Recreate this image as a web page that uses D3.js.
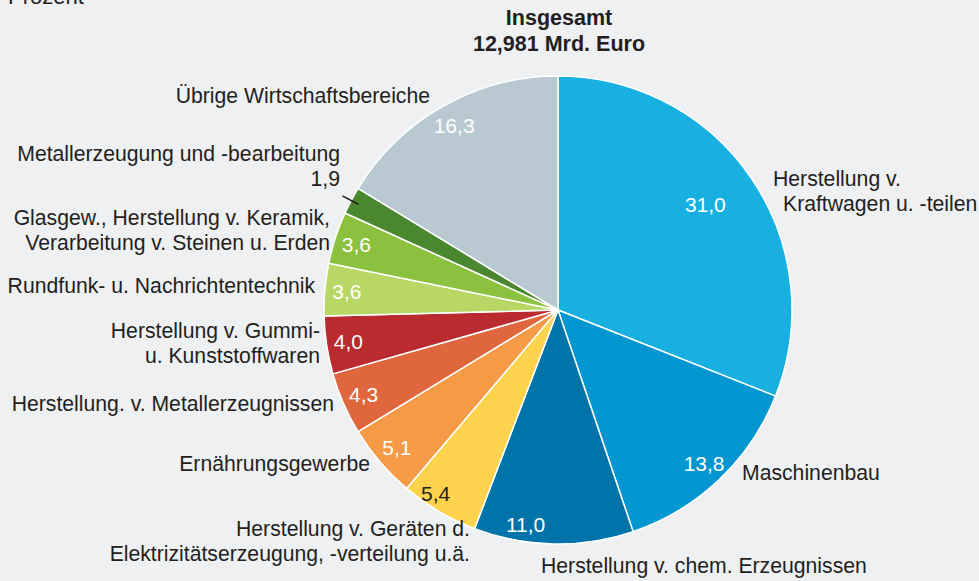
<!DOCTYPE html>
<html><head><meta charset="utf-8">
<script src="https://cdn.jsdelivr.net/npm/d3@7"></script>
<style>
body{margin:0;background:#eff0f2}
svg{display:block}
text{font-family:"Liberation Sans",Arial,Helvetica,sans-serif}
</style></head>
<body><svg id="chart" width="979" height="581"></svg>
<script>
const categories = [
  "Herstellung v. Kraftwagen u. -teilen",
  "Maschinenbau",
  "Herstellung v. chem. Erzeugnissen",
  "Herstellung v. Geräten d. Elektrizitätserzeugung, -verteilung u.ä.",
  "Ernährungsgewerbe",
  "Herstellung. v. Metallerzeugnissen",
  "Herstellung v. Gummi- u. Kunststoffwaren",
  "Rundfunk- u. Nachrichtentechnik",
  "Glasgew., Herstellung v. Keramik, Verarbeitung v. Steinen u. Erden",
  "Metallerzeugung und -bearbeitung",
  "Übrige Wirtschaftsbereiche"
];
const values = [31.0, 13.8, 11.0, 5.4, 5.1, 4.3, 4.0, 3.6, 3.6, 1.9, 16.3];
const colors = ["#17b0e0","#0496d0","#0073a9","#fdd34e","#f59a47","#e0673d","#b92b2e","#b9d765","#8bc13f","#4b872f","#b8c9d2"];
const labelLines = [
  ["Herstellung v.", "Kraftwagen u. -teilen"],
  ["Maschinenbau"],
  ["Herstellung v. chem. Erzeugnissen"],
  ["Herstellung v. Geräten d.", "Elektrizitätserzeugung, -verteilung u.ä."],
  ["Ernährungsgewerbe"],
  ["Herstellung. v. Metallerzeugnissen"],
  ["Herstellung v. Gummi-", "u. Kunststoffwaren"],
  ["Rundfunk- u. Nachrichtentechnik"],
  ["Glasgew., Herstellung v. Keramik,", "Verarbeitung v. Steinen u. Erden"],
  ["Metallerzeugung und -bearbeitung"],
  ["Übrige Wirtschaftsbereiche"]
];
const titleLines = ["Insgesamt", "12,981 Mrd. Euro"];
const unitLabel = "Prozent";

const svg = d3.select("#chart");
const W = 979, H = 581;
const cx = 558, cy = 310, R = 234;
const FS = 21.2;
const fmt = v => v.toFixed(1).replace(".", ",");

svg.append("rect").attr("width", W).attr("height", H).attr("fill", "#eff0f2");

svg.append("text").attr("x", 8).attr("y", 4).attr("font-size", 22).attr("fill", "#231f20").text(unitLabel);

const tg = svg.append("text").attr("text-anchor", "middle").attr("font-weight", "bold").attr("font-size", 21.5).attr("fill", "#231f20");
titleLines.forEach((t, i) => tg.append("tspan").attr("x", cx + 1).attr("y", 25 + i * 25.5).text(t));

const pie = d3.pie().sort(null).value(d => d)(values);
const arc = d3.arc().innerRadius(0).outerRadius(R);
const g = svg.append("g").attr("transform", `translate(${cx},${cy})`);

g.selectAll("path").data(pie).join("path")
  .attr("d", arc)
  .attr("fill", (d, i) => colors[i])
  .attr("stroke", "#ffffff")
  .attr("stroke-width", 1.5)
  .attr("stroke-linejoin", "round");

// value labels inside slices
const adj = {0: {r: 181, da: -1.3}, 2: {r: 217, da: 7.5}, 3: {r: 221, da: 3}};
pie.forEach((d, i) => {
  if (i === 9) return;
  const a = adj[i] || {r: 212, da: 0};
  const ang = (d.startAngle + d.endAngle) / 2 + a.da * Math.PI / 180;
  const x = a.r * Math.sin(ang), y = -a.r * Math.cos(ang);
  g.append("text").attr("x", x).attr("y", y).attr("dy", "0.35em")
    .attr("text-anchor", "middle").attr("font-size", 21)
    .attr("fill", i === 3 ? "#231f20" : "#ffffff")
    .text(fmt(values[i]));
});

// outside labels
const outPos = [
  {x: 773, y: 186, anchor: "start", dx2: 10},
  {x: 742, y: 480, anchor: "start"},
  {x: 541, y: 573, anchor: "start"},
  {x: 470, y: 536, anchor: "end"},
  {x: 370, y: 471, anchor: "end"},
  {x: 334, y: 411, anchor: "end"},
  {x: 320, y: 338, anchor: "end"},
  {x: 315, y: 293, anchor: "end"},
  {x: 330, y: 225, anchor: "end"},
  {x: 340, y: 161, anchor: "end"},
  {x: 430, y: 103, anchor: "end"}
];
labelLines.forEach((lines, i) => {
  const p = outPos[i];
  const t = svg.append("text").attr("text-anchor", p.anchor).attr("font-size", FS).attr("fill", "#231f20");
  lines.forEach((ln, j) => t.append("tspan").attr("x", p.x + (j > 0 && p.dx2 ? p.dx2 : 0)).attr("y", p.y + j * 24.5).text(ln));
});

// small slice value with leader
const s9 = pie[9];
const a9 = (s9.startAngle + s9.endAngle) / 2;
svg.append("text").attr("x", 340).attr("y", 186).attr("text-anchor", "end").attr("font-size", FS).attr("fill", "#231f20").text(fmt(values[9]));
const rIn = R - 8, rOut = R + 10;
svg.append("line")
  .attr("x1", cx + rOut * Math.sin(a9)).attr("y1", cy - rOut * Math.cos(a9))
  .attr("x2", cx + rIn * Math.sin(a9)).attr("y2", cy - rIn * Math.cos(a9))
  .attr("stroke", "#231f20").attr("stroke-width", 1.5);
</script></body></html>
